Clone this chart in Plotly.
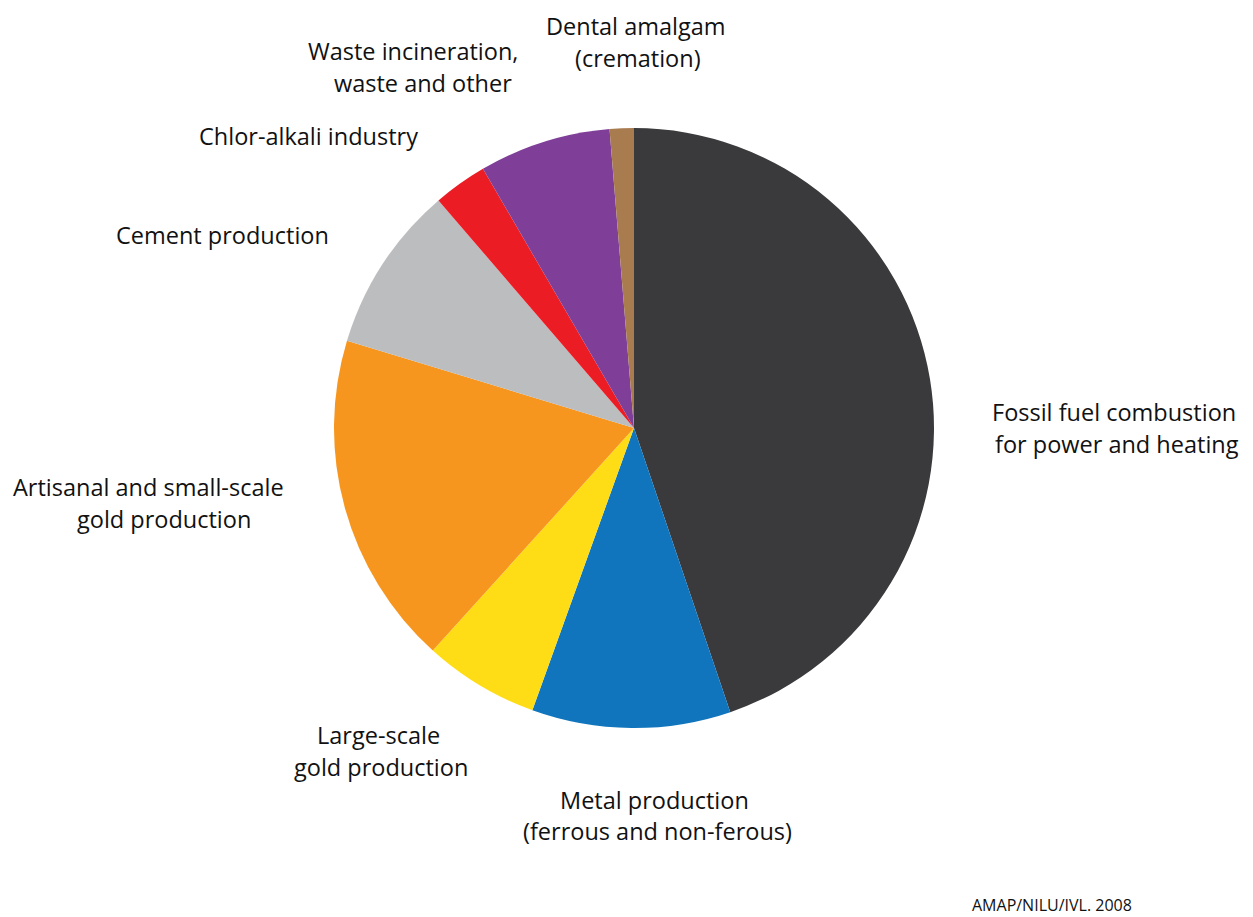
import plotly.graph_objects as go

categories = [
    "Fossil fuel combustion for power and heating",
    "Metal production (ferrous and non-ferous)",
    "Large-scale gold production",
    "Artisanal and small-scale gold production",
    "Cement production",
    "Chlor-alkali industry",
    "Waste incineration, waste and other",
    "Dental amalgam (cremation)",
]
shares = [44.8, 10.7, 6.2, 18.0, 9.0, 2.9, 7.1, 1.3]
colors = ["#3a393b", "#1075bc", "#fedd17", "#f6961e", "#bcbdbf", "#ec1c24", "#7f3f98", "#a97c50"]

# label lines: (text, x px center, y px center)
label_lines = [
    ("Dental amalgam", 636, 26),
    ("(cremation)", 638, 58),
    ("Waste incineration,", 413, 51),
    ("waste and other", 423, 83),
    ("Chlor-alkali industry", 308, 136),
    ("Cement production", 222, 235),
    ("Artisanal and small-scale", 148, 487),
    ("gold production", 164, 519),
    ("Large-scale", 378, 735),
    ("gold production", 381, 767),
    ("Metal production", 654, 800),
    ("(ferrous and non-ferous)", 657, 831),
    ("Fossil fuel combustion", 1114, 412),
    ("for power and heating", 1117, 444),
]
source = "AMAP/NILU/IVL. 2008"

W, H = 1253, 917
cx, cy, r = 634, 428, 300

fig = go.Figure(go.Pie(
    labels=categories, values=shares, sort=False, direction="clockwise", rotation=0,
    marker=dict(colors=colors, line=dict(width=0)),
    textinfo="none", hoverinfo="label+percent", showlegend=False,
    domain=dict(x=[(cx - r) / W, (cx + r) / W], y=[1 - (cy + r) / H, 1 - (cy - r) / H]),
))

anns = []
for text, x, y in label_lines:
    anns.append(dict(text=text, x=x / W, y=1 - y / H, xref="paper", yref="paper",
                     showarrow=False, xanchor="center", yanchor="middle",
                     font=dict(family="Open Sans", size=23.5, color="#111111")))
anns.append(dict(text=source, x=1052 / W, y=1 - 905 / H, xref="paper", yref="paper",
                 showarrow=False, xanchor="center", yanchor="middle",
                 font=dict(family="Open Sans", size=16, color="#111111")))

fig.update_layout(width=W, height=H, margin=dict(l=0, r=0, t=0, b=0),
                  paper_bgcolor="white", plot_bgcolor="white", annotations=anns)
fig.write_html("out.html")
